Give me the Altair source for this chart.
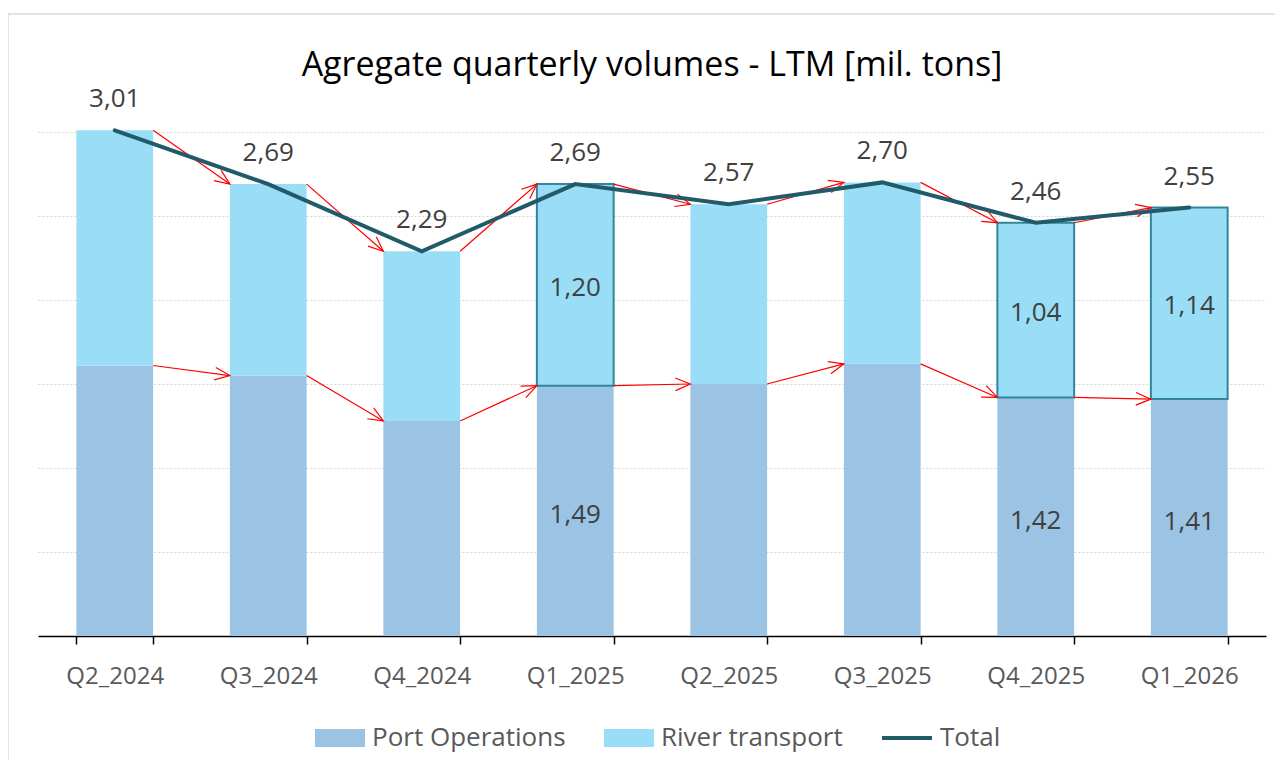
import altair as alt
import pandas as pd

# ---- data ----
categories = ["Q2_2024", "Q3_2024", "Q4_2024", "Q1_2025",
              "Q2_2025", "Q3_2025", "Q4_2025", "Q1_2026"]
port_ops = [1.61, 1.55, 1.28, 1.49, 1.50, 1.62, 1.42, 1.41]
river = [1.40, 1.14, 1.01, 1.20, 1.07, 1.08, 1.04, 1.14]
totals = [3.01, 2.69, 2.29, 2.69, 2.57, 2.70, 2.46, 2.55]
highlighted = ["Q1_2025", "Q4_2025", "Q1_2026"]
series_names = ["Port Operations", "River transport"]
title_text = "Agregate quarterly volumes - LTM [mil. tons]"

FONT = "Open Sans"
PORT_C = "#9AC3E4"
RIVER_C = "#99DDF7"
LINE_C = "#215A69"
OUTLINE_C = "#31859C"
LABEL_C = "#404040"


def fmt(v):
    return f"{v:.2f}".replace(".", ",")


# ---- tables built from the arrays ----
bar_rows = []
for c, p, r in zip(categories, port_ops, river):
    bar_rows.append({"cat": c, "series": series_names[0], "y0": 0.0, "y1": p})
    bar_rows.append({"cat": c, "series": series_names[1], "y0": p, "y1": round(p + r, 2)})
bars_df = pd.DataFrame(bar_rows)

hl_rows = []
for c, p, r in zip(categories, port_ops, river):
    if c in highlighted:
        hl_rows.append({"cat": c, "y0": p, "y1": round(p + r, 2),
                        "pmid": p / 2, "rmid": p + r / 2,
                        "plab": fmt(p), "rlab": fmt(r)})
hl_df = pd.DataFrame(hl_rows)

tot_df = pd.DataFrame({"cat": categories, "total": totals,
                       "lab": [fmt(t) for t in totals],
                       "series": ["Total"] * len(categories)})

arrow_rows = []
for level in (totals, port_ops):
    for i in range(len(categories) - 1):
        arrow_rows.append({"cat": categories[i], "cat2": categories[i + 1],
                           "v1": level[i], "v2": level[i + 1]})
arrow_df = pd.DataFrame(arrow_rows)

# ---- shared encodings ----
x_scale = alt.Scale(domain=categories, paddingInner=0.5, paddingOuter=0.25)
x_enc = alt.X(
    "cat:N",
    sort=categories,
    scale=x_scale,
    axis=alt.Axis(title=None, labelAngle=0, labelFont=FONT, labelFontSize=24,
                  labelColor="#595959", labelPadding=20, tickBand="extent",
                  tickSize=8, tickColor="#000000", tickWidth=1.5,
                  domainColor="#000000", domainWidth=1.5, grid=False),
)
y_scale = alt.Scale(domain=[0, 3.0], nice=False, zero=True)
y_axis = alt.Axis(title=None, labels=False, ticks=False, domain=False, grid=True,
                  values=[0.5, 1.0, 1.5, 2.0, 2.5, 3.0], gridColor="#d4d4d4",
                  gridDash=[2, 2], gridWidth=1)

# ---- layers ----
one_row = alt.Data(values=[{"t": title_text}])

border = alt.Chart(one_row).mark_rect(
    fillOpacity=0, stroke="#d9d9d9", strokeWidth=1.5
).encode(x=alt.value(-30), x2=alt.value(1400), y=alt.value(-118), y2=alt.value(900))

title = alt.Chart(one_row).mark_text(
    font=FONT, fontSize=34, color="#000000", baseline="alphabetic", align="center"
).encode(x=alt.value(614), y=alt.value(-56), text="t:N")

bars = alt.Chart(bars_df).mark_bar().encode(
    x=x_enc,
    y=alt.Y("y0:Q", scale=y_scale, axis=y_axis),
    y2="y1:Q",
    fill=alt.Fill(
        "series:N",
        scale=alt.Scale(domain=series_names, range=[PORT_C, RIVER_C]),
        legend=alt.Legend(
            title=None, orient="none", legendX=277, legendY=581,
            direction="horizontal",
            symbolType="M-1,-0.36L1,-0.36L1,0.36L-1,0.36Z",
            symbolSize=2500, symbolStrokeWidth=0, symbolOpacity=1,
            labelFont=FONT, labelFontSize=26, labelColor="#595959",
            labelOffset=7, columnPadding=38, labelLimit=400,
        ),
    ),
)

outline = alt.Chart(hl_df).mark_bar(
    fillOpacity=0, stroke=OUTLINE_C, strokeWidth=2
).encode(x=x_enc, y=alt.Y("y0:Q", scale=y_scale, axis=y_axis), y2="y1:Q")

arrow_lines = alt.Chart(arrow_df).mark_rule(
    color="#FF0000", strokeWidth=1.2,
    xOffset=alt.expr("bandwidth('x')/2"),
    x2Offset=alt.expr("-bandwidth('x')/2"),
).encode(
    x=x_enc, x2="cat2:N",
    y=alt.Y("v1:Q", scale=y_scale, axis=y_axis), y2="v2:Q",
)

arrow_heads = alt.Chart(arrow_df).mark_point(
    shape="M-1,-0.42L0,0L-1,0.42", filled=False, color="#FF0000",
    strokeWidth=1.2, size=900, opacity=1,
    xOffset=alt.expr("-bandwidth('x')/2"),
    angle=alt.expr(
        "(atan2(scale('y', datum.v2) - scale('y', datum.v1), "
        "scale('x', datum.cat2) - scale('x', datum.cat) - bandwidth('x')) * 180 / PI + 360) % 360"
    ),
).encode(
    x=alt.X("cat2:N", sort=categories, scale=x_scale),
    y=alt.Y("v2:Q", scale=y_scale, axis=y_axis),
)

total_line = alt.Chart(tot_df).mark_line(strokeWidth=4, strokeCap="round").encode(
    x=x_enc,
    y=alt.Y("total:Q", scale=y_scale, axis=y_axis),
    stroke=alt.Stroke(
        "series:N",
        scale=alt.Scale(domain=["Total"], range=[LINE_C]),
        legend=alt.Legend(
            title=None, orient="none", legendX=842, legendY=579,
            symbolType="stroke", symbolSize=2500, symbolStrokeWidth=4,
            labelFont=FONT, labelFontSize=26, labelColor="#595959", labelOffset=6,
            labelLimit=400,
        ),
    ),
)

total_labels = alt.Chart(tot_df).mark_text(
    font=FONT, fontSize=26, color=LABEL_C, baseline="alphabetic", dy=-23
).encode(x=x_enc, y=alt.Y("total:Q", scale=y_scale, axis=y_axis), text="lab:N")

river_labels = alt.Chart(hl_df).mark_text(
    font=FONT, fontSize=26, color=LABEL_C, baseline="middle", dy=3
).encode(x=x_enc, y=alt.Y("rmid:Q", scale=y_scale, axis=y_axis), text="rlab:N")

port_labels = alt.Chart(hl_df).mark_text(
    font=FONT, fontSize=26, color=LABEL_C, baseline="middle", dy=4
).encode(x=x_enc, y=alt.Y("pmid:Q", scale=y_scale, axis=y_axis), text="plab:N")

chart = alt.layer(
    border, title, bars, outline, arrow_lines, arrow_heads, total_line,
    total_labels, river_labels, port_labels,
).properties(
    width=1228, height=504,
    padding={"left": 30, "top": 124, "right": 9, "bottom": 124},
    autosize=alt.AutoSizeParams(type="none"),
).configure_view(stroke=None)

chart.save("out.html", embed_options={"renderer": "svg", "actions": False})
